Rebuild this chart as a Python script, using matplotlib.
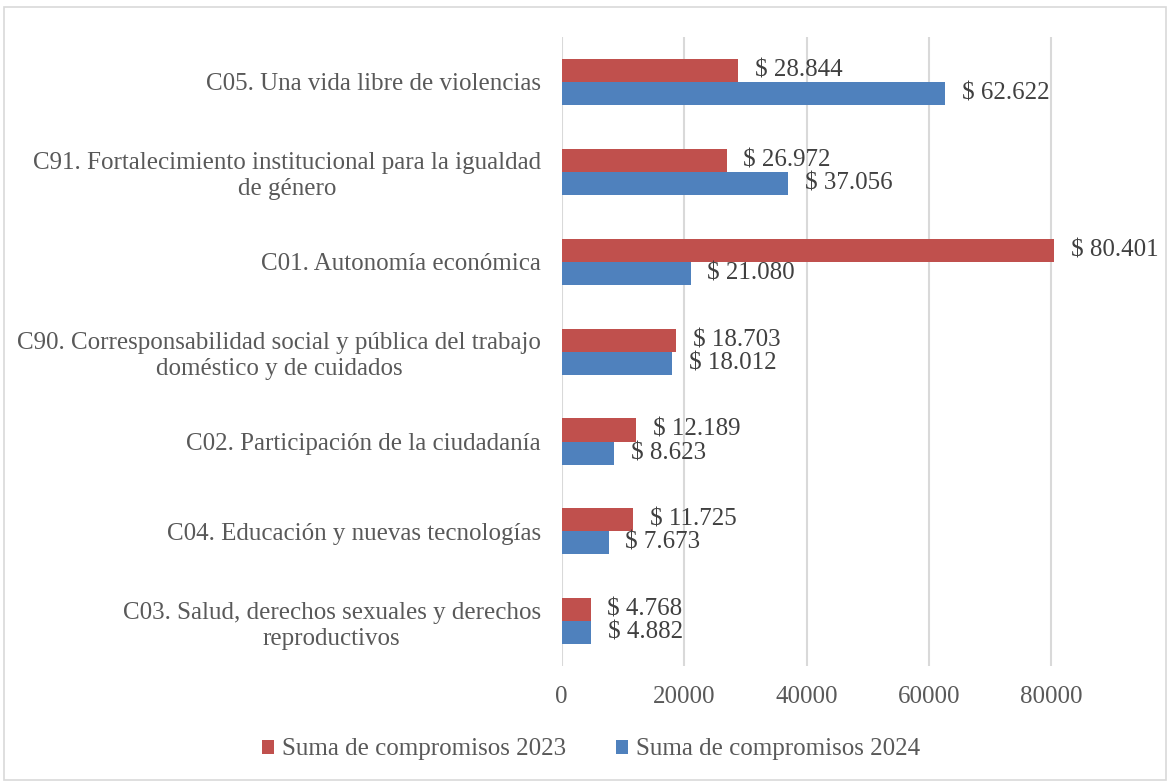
import matplotlib.pyplot as plt
import numpy as np
from matplotlib.patches import Rectangle

# Datos
categorias = [
    'C05. Una vida libre de violencias',
    'C91. Fortalecimiento institucional para la igualdad\nde género',
    'C01. Autonomía económica',
    'C90. Corresponsabilidad social y pública del trabajo\ndoméstico y de cuidados',
    'C02. Participación de la ciudadanía',
    'C04. Educación y nuevas tecnologías',
    'C03. Salud, derechos sexuales y derechos\nreproductivos',
]
valores_2023 = [28844, 26972, 80401, 18703, 12189, 11725, 4768]
valores_2024 = [62622, 37056, 21080, 18012, 8623, 7673, 4882]
ticks_x = [0, 20000, 40000, 60000, 80000]

rojo = '#C0504D'
azul = '#4F81BD'
gris_texto = '#595959'

plt.rcParams['font.family'] = ['Liberation Serif', 'DejaVu Serif']

fig = plt.figure(figsize=(11.7, 7.83), dpi=100)
ax = fig.add_axes([0.480, 0.149, 0.471, 0.804])

# Borde del gráfico
fig.patches.append(Rectangle((0.003, 0.004), 0.994, 0.987, transform=fig.transFigure,
                             fill=False, edgecolor='#D9D9D9', linewidth=1.2))

y = np.arange(len(categorias))
h = 0.256
b1 = ax.barh(y - h / 2, valores_2023, height=h, color=rojo, label='Suma de compromisos 2023')
b2 = ax.barh(y + h / 2, valores_2024, height=h, color=azul, label='Suma de compromisos 2024')

def fmt(v):
    return '$ ' + f'{v:,}'.replace(',', '.')

for barras, vals in [(b1, valores_2023), (b2, valores_2024)]:
    for barra, v in zip(barras, vals):
        ax.annotate(fmt(v), (v, barra.get_y() + barra.get_height() / 2),
                    xytext=(12, 0), textcoords='offset points',
                    va='center', ha='left', fontsize=18, color='#404040')

ax.set_xlim(0, 90000)
ax.set_ylim(len(categorias) - 0.5, -0.5)
ax.set_xticks(ticks_x)
ax.set_yticks(y)
ax.set_yticklabels(categorias)
for t in ax.get_yticklabels():
    t.set_multialignment('center')
    t.set_linespacing(1.25)

ax.tick_params(axis='both', length=0, labelsize=18, labelcolor=gris_texto)
ax.tick_params(axis='y', pad=15)
ax.tick_params(axis='x', pad=14)
ax.grid(axis='x', color='#D9D9D9', linewidth=1.5)
ax.set_axisbelow(True)
for s in ax.spines.values():
    s.set_visible(False)

fig.legend(loc='lower center', bbox_to_anchor=(0.505, 0.0), ncol=2, frameon=False,
           fontsize=18, labelcolor=gris_texto, handlelength=0.5, handleheight=0.5,
           handletextpad=0.3, columnspacing=2.0)

fig.savefig('out.png', dpi=100)
